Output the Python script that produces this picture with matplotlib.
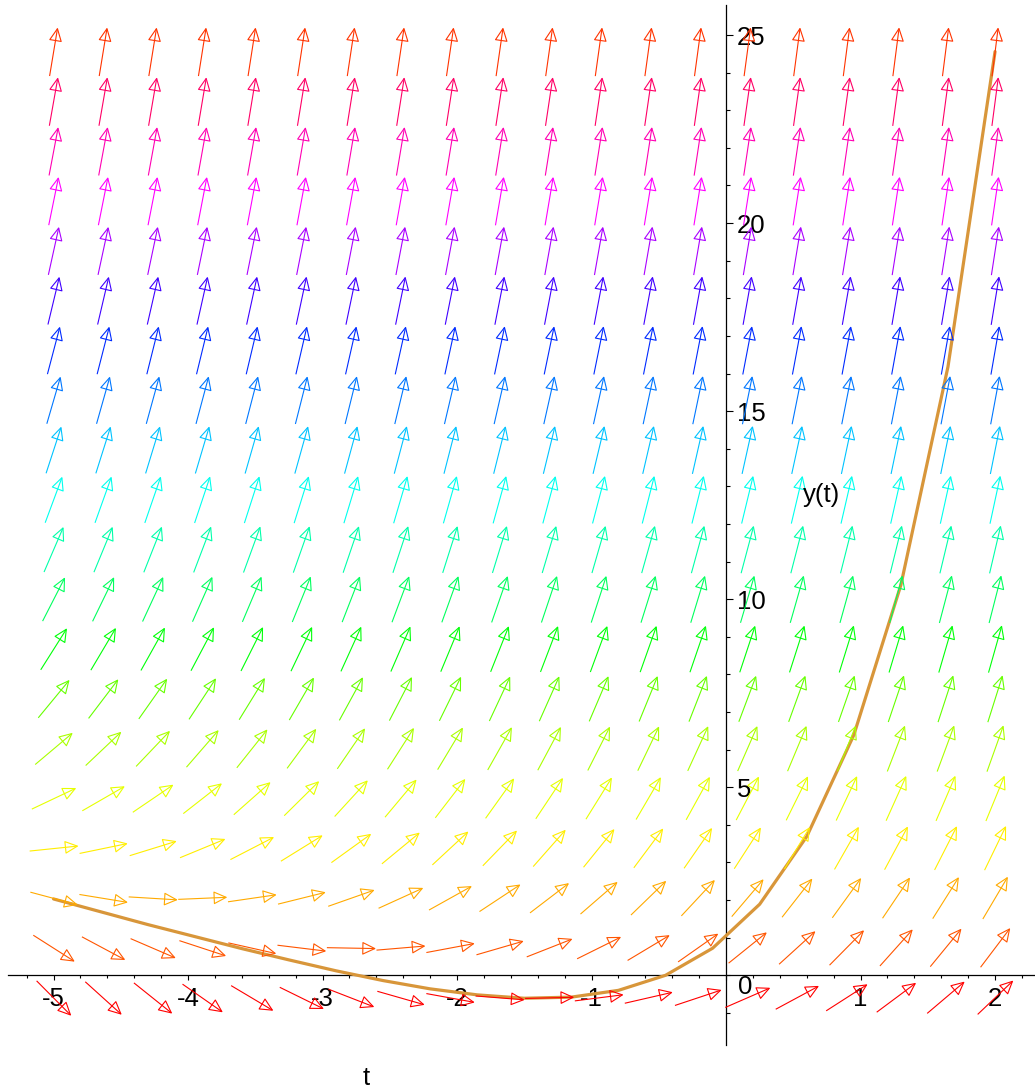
import colorsys
import numpy as np
import matplotlib.pyplot as plt
from matplotlib.collections import LineCollection, PolyCollection
from matplotlib.ticker import MultipleLocator, FixedLocator

plt.rcParams['font.family'] = ['Liberation Sans', 'DejaVu Sans']

# direction field of  y' = t + y + 2  on a 20 x 20 grid
t_grid = np.linspace(-5.0, 2.0, 20)
y_grid = np.linspace(-0.6, 24.54, 20)
# hue (degrees) of the arrows in each row, bottom to top
row_hue = [0, 20, 40, 56, 66, 80, 96, 122, 142, 160,
           176, 194, 212, 230, 255, 280, 300, 318, 336, 12]

# numerical solution through y(0) = 1, step 0.35
sol_t = [-5.0, -4.65, -4.3, -3.95, -3.6, -3.25, -2.9, -2.55, -2.2, -1.85, -1.5,
         -1.15, -0.8, -0.45, -0.1, 0.25, 0.6, 0.95, 1.3, 1.65, 2.0]
sol_y = [2.03, 1.69, 1.35, 1.03, 0.71, 0.41, 0.12, -0.14, -0.36, -0.52, -0.61,
         -0.58, -0.40, 0.0, 0.72, 1.89, 3.69, 6.39, 10.38, 16.18, 24.56]

x_ticks = [-5, -4, -3, -2, -1, 0, 1, 2]
y_ticks = [5, 10, 15, 20, 25]
y_minor = list(range(-1, 26))


def slope(t, y):
    return t + y + 2


fig = plt.figure(figsize=(10.35, 10.91), dpi=100)
ax = fig.add_axes([0, 0, 1, 1])
ax.set_xlim(-5.398, 2.297)
ax.set_ylim(-3.076, 25.932)

# arrows: fixed length on screen, centred on the grid points
T, Y = np.meshgrid(t_grid, y_grid)
t_flat, y_flat = T.ravel(), Y.ravel()
c = ax.transData.transform(np.column_stack([t_flat, y_flat]))
a = ax.transData.transform(np.column_stack([t_flat + 0.01,
                                            y_flat + 0.01 * slope(t_flat, y_flat)]))
d = a - c
d /= np.linalg.norm(d, axis=1)[:, None]
perp = np.column_stack([-d[:, 1], d[:, 0]])
L, hl, hw = 48.0, 12.0, 11.5
tail = c - d * L / 2
tip = c + d * L / 2
base = tip - d * hl
inv = ax.transData.inverted()
tail_d, tip_d = inv.transform(tail), inv.transform(tip)
left_d = inv.transform(base + perp * hw / 2)
right_d = inv.transform(base - perp * hw / 2)

rows = np.repeat(np.arange(len(y_grid)), len(t_grid))
colors = [colorsys.hsv_to_rgb(row_hue[r] / 360.0, 1.0, 1.0) for r in rows]

segs = [[tail_d[i], tip_d[i]] for i in range(len(t_flat))]
heads = [[tip_d[i], left_d[i], right_d[i]] for i in range(len(t_flat))]
ax.add_collection(LineCollection(segs, colors=colors, linewidths=0.8, zorder=4))
ax.add_collection(PolyCollection(heads, facecolors='none', edgecolors=colors,
                                 linewidths=0.8, zorder=4))

ax.plot(sol_t, sol_y, color='#d8963a', lw=2.3, zorder=3, solid_capstyle='round')

# axes through the origin
for s in ['top', 'right']:
    ax.spines[s].set_visible(False)
ax.spines['left'].set_position(('data', 0))
ax.spines['bottom'].set_position(('data', 0))
ax.spines['bottom'].set_bounds(-5.34, 2.297)
ax.spines['left'].set_bounds(-1.86, 25.8)
for s in ['left', 'bottom']:
    ax.spines[s].set_linewidth(0.9)
    ax.spines[s].set_zorder(2)

ax.set_xticks(x_ticks)
ax.set_xticklabels([str(v) if v != 0 else '' for v in x_ticks])
ax.xaxis.set_minor_locator(MultipleLocator(0.2))
ax.tick_params(axis='x', which='major', direction='out', length=3.6, width=0.8,
               labelsize=18.5, pad=5)
ax.tick_params(axis='x', which='minor', direction='out', length=2.2, width=0.8)

ax.set_yticks(y_ticks)
ax.set_yticklabels([str(v) for v in y_ticks])
ax.yaxis.set_minor_locator(FixedLocator(y_minor))
ax.tick_params(axis='y', which='major', direction='in', length=5, width=0.8,
               labelsize=18.5, pad=-8)
ax.tick_params(axis='y', which='minor', direction='in', length=3, width=0.8)
plt.setp(ax.get_yticklabels(), ha='left')

# the "0" sits off to the side of the vertical axis
ax.text(745 / 1035, 1 - 987 / 1091, '0', transform=fig.transFigure,
        fontsize=18.5, ha='center', va='center')

fig.text(366 / 1035, 1 - 1078 / 1091, 't', fontsize=18.5, ha='center', va='center')
fig.text(803 / 1035, 1 - 495 / 1091, 'y(t)', fontsize=18.5, ha='left', va='center')

fig.savefig('out.png', dpi=100)
